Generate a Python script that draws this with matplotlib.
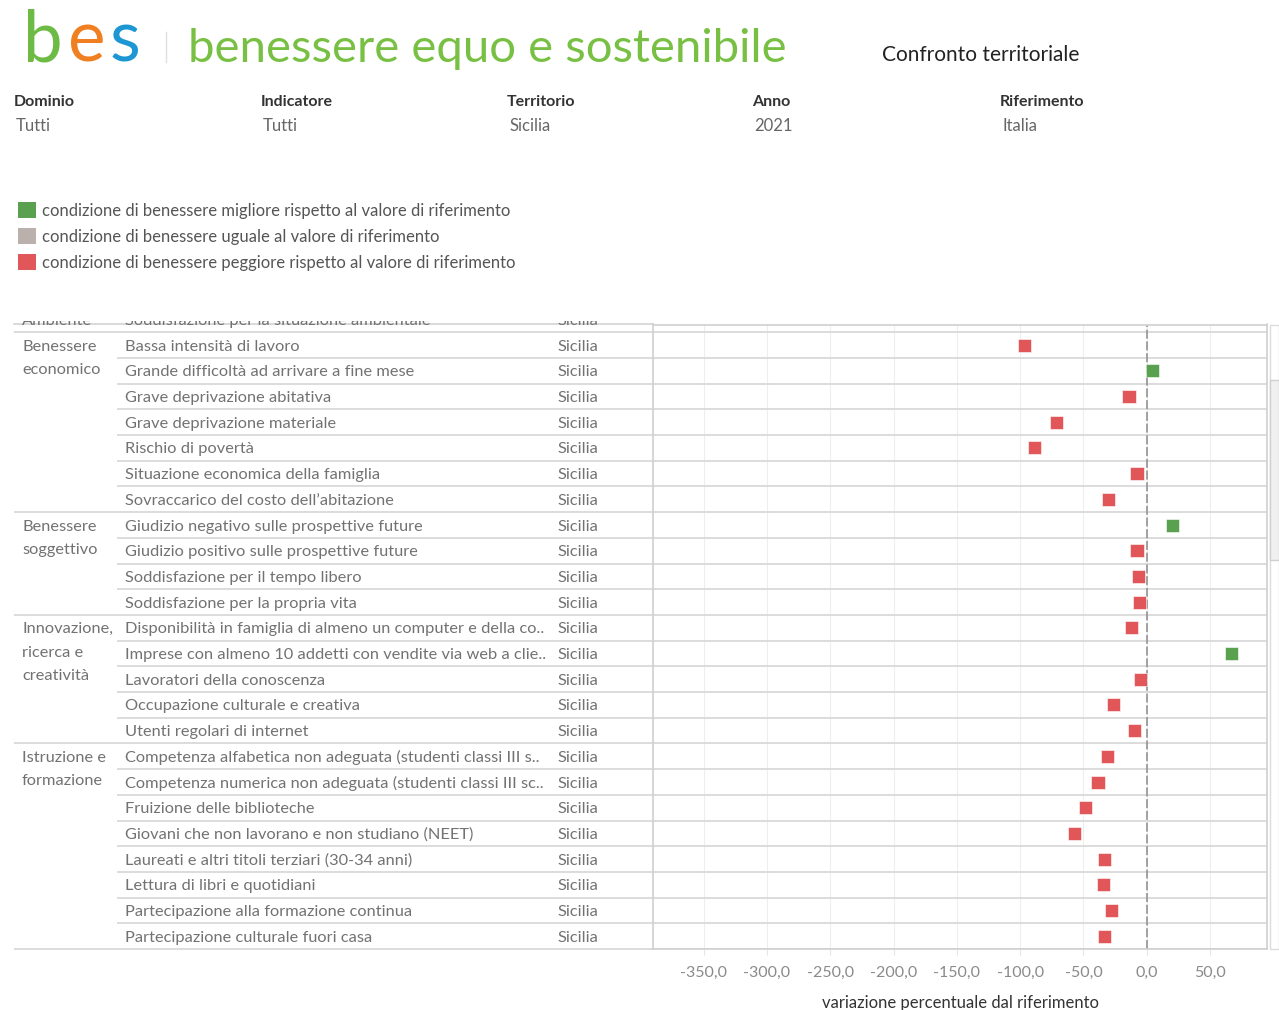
import numpy as np
import matplotlib
matplotlib.use('Agg')
import matplotlib.pyplot as plt
from matplotlib.patches import Patch, Rectangle
from matplotlib.ticker import FuncFormatter

# ---------------- data ----------------
domini = ["Ambiente",
          "Benessere economico", "Benessere economico", "Benessere economico", "Benessere economico",
          "Benessere economico", "Benessere economico", "Benessere economico",
          "Benessere soggettivo", "Benessere soggettivo", "Benessere soggettivo", "Benessere soggettivo",
          "Innovazione, ricerca e creatività", "Innovazione, ricerca e creatività",
          "Innovazione, ricerca e creatività", "Innovazione, ricerca e creatività",
          "Innovazione, ricerca e creatività",
          "Istruzione e formazione", "Istruzione e formazione", "Istruzione e formazione",
          "Istruzione e formazione", "Istruzione e formazione", "Istruzione e formazione",
          "Istruzione e formazione", "Istruzione e formazione"]

etichette_dominio = {
    "Ambiente": ["Ambiente"],
    "Benessere economico": ["Benessere", "economico"],
    "Benessere soggettivo": ["Benessere", "soggettivo"],
    "Innovazione, ricerca e creatività": ["Innovazione,", "ricerca e", "creatività"],
    "Istruzione e formazione": ["Istruzione e", "formazione"],
}

indicatori = [
    "Soddisfazione per la situazione ambientale",
    "Bassa intensità di lavoro",
    "Grande difficoltà ad arrivare a fine mese",
    "Grave deprivazione abitativa",
    "Grave deprivazione materiale",
    "Rischio di povertà",
    "Situazione economica della famiglia",
    "Sovraccarico del costo dell\u2019abitazione",
    "Giudizio negativo sulle prospettive future",
    "Giudizio positivo sulle prospettive future",
    "Soddisfazione per il tempo libero",
    "Soddisfazione per la propria vita",
    "Disponibilità in famiglia di almeno un computer e della co..",
    "Imprese con almeno 10 addetti con vendite via web a clie..",
    "Lavoratori della conoscenza",
    "Occupazione culturale e creativa",
    "Utenti regolari di internet",
    "Competenza alfabetica non adeguata (studenti classi III s..",
    "Competenza numerica non adeguata (studenti classi III sc..",
    "Fruizione delle biblioteche",
    "Giovani che non lavorano e non studiano (NEET)",
    "Laureati e altri titoli terziari (30-34 anni)",
    "Lettura di libri e quotidiani",
    "Partecipazione alla formazione continua",
    "Partecipazione culturale fuori casa",
]

territorio = "Sicilia"

valori = [np.nan,
          -96.6, 4.3, -14.0, -71.0, -89.0, -7.7, -30.0,
          20.7, -7.7, -6.8, -5.8,
          -12.0, 66.6, -5.0, -26.0, -10.0,
          -31.0, -38.5, -48.0, -57.0, -33.5, -34.4, -28.0, -33.5]

esito = ["peggiore",
         "peggiore", "migliore", "peggiore", "peggiore", "peggiore", "peggiore", "peggiore",
         "migliore", "peggiore", "peggiore", "peggiore",
         "peggiore", "migliore", "peggiore", "peggiore", "peggiore",
         "peggiore", "peggiore", "peggiore", "peggiore", "peggiore", "peggiore", "peggiore", "peggiore"]

tick_valori = [-350, -300, -250, -200, -150, -100, -50, 0, 50]

legenda_etichette = ["condizione di benessere migliore rispetto al valore di riferimento",
                     "condizione di benessere uguale al valore di riferimento",
                     "condizione di benessere peggiore rispetto al valore di riferimento"]

filtri_titoli = ["Dominio", "Indicatore", "Territorio", "Anno", "Riferimento"]
filtri_valori = ["Tutti", "Tutti", "Sicilia", "2021", "Italia"]

# ---------------- style ----------------
COL = {"migliore": "#59a14f", "uguale": "#bab0ac", "peggiore": "#e15759"}
FONT = ['Lato', 'DejaVu Sans']
plt.rcParams['font.family'] = FONT

W, H = 1279, 1010
fig = plt.figure(figsize=(W / 100, H / 100), dpi=100)
renderer = fig.canvas.get_renderer()

def fx(x):
    return x / W

def fy(y):
    return 1 - y / H

# overlay axes in pixel coordinates for header
ax_o = fig.add_axes([0, 0, 1, 1], zorder=-1)
ax_o.set_xlim(0, W)
ax_o.set_ylim(H, 0)
ax_o.axis('off')

# logo
x = 23
for ch, c, gap in [("b", "#6dbb45", 5), ("e", "#f07f22", 4), ("s", "#1d97d4", 0)]:
    t = ax_o.text(x, 62, ch, fontsize=51, color=c, va='baseline', ha='left')
    x = t.get_window_extent(renderer).x1 + gap
ax_o.plot([166, 166], [32, 62], color="#e0e0e0", lw=1)
ax_o.text(188, 62, "benessere equo e sostenibile", fontsize=34, color="#78c043",
          va='baseline', ha='left')
ax_o.text(882, 55, "Confronto territoriale", fontsize=15, color="#222222", va='center', ha='left')

hx = [14, 261, 507, 752, 1000]
for xx, t, v in zip(hx, filtri_titoli, filtri_valori):
    ax_o.text(xx, 102, t, fontsize=11.5, fontweight='bold', color="#333333", va='center', ha='left')
    ax_o.text(xx + 2, 126, v, fontsize=12, color="#666666", va='center', ha='left')

# scrollbar
ax_o.add_patch(Rectangle((1270, 325), 9, 624, fc='white', ec='#dcdcdc', lw=1))
ax_o.add_patch(Rectangle((1270, 380), 9, 180, fc='#f0f0f0', ec='#cfcfcf', lw=1))

# legend
handles = [Patch(facecolor=COL[k], edgecolor='none') for k in ["migliore", "uguale", "peggiore"]]
fig.legend(handles, legenda_etichette, loc='upper left', bbox_to_anchor=(fx(18), fy(202)),
           frameon=False, fontsize=12, handlelength=1.08, handleheight=1.08,
           handletextpad=0.38, labelspacing=0.58, borderpad=0, borderaxespad=0,
           labelcolor='#555555')

# ---------------- table + plot ----------------
CLIP_TOP, TOP, BOT = 321, 324.5, 949
LEFT, MID, RIGHT = 14, 653, 1267
ROW_H = 25.7
Y0 = 345.15
TXT_OFF = 1.5 / ROW_H

def yrow(ypix):
    return (ypix - Y0) / ROW_H

rows = np.arange(len(indicatori)) - 1

ax_t = fig.add_axes([fx(LEFT), fy(BOT), (MID - LEFT) / W, (BOT - CLIP_TOP) / H])
ax_t.set_xlim(LEFT, MID)
ax_t.set_ylim(yrow(BOT), yrow(CLIP_TOP))
ax_t.axis('off')

ax_p = fig.add_axes([fx(MID), fy(BOT), (RIGHT - MID) / W, (BOT - TOP) / H])
ax_p.set_ylim(yrow(BOT), yrow(TOP))
ax_p.set_xlim(-390, 95)

line_col = '#d9d9d9'
# row separator lines
for i in range(len(indicatori)):
    b = rows[i] + 0.5
    last = i == len(indicatori) - 1
    new_group = last or domini[i + 1] != domini[i]
    x0 = LEFT if new_group else 117
    ax_t.plot([x0, MID], [b, b], color=line_col, lw=1.3, solid_capstyle='butt',
              clip_on=False, zorder=2)
    ax_p.axhline(b, color=line_col, lw=1.3, zorder=1)
ax_t.plot([LEFT, MID], [yrow(TOP), yrow(TOP)], color='#cfcfcf', lw=1.1,
          clip_on=False, zorder=3)

# table text
txt_col = '#727272'
FS = 11.8
for r, ind in zip(rows, indicatori):
    ax_t.text(125, r + TXT_OFF, ind, fontsize=FS, color=txt_col, va='center', ha='left', clip_on=True)
    ax_t.text(557, r + TXT_OFF, territorio, fontsize=FS, color=txt_col, va='center', ha='left', clip_on=True)

seen = set()
for r, d in zip(rows, domini):
    if d in seen:
        continue
    seen.add(d)
    for j, line in enumerate(etichette_dominio[d]):
        ax_t.text(22, r + TXT_OFF + j * 23.3 / ROW_H, line, fontsize=FS, color=txt_col,
                  va='center', ha='left', clip_on=True)

# plot styling
for s in ax_p.spines.values():
    s.set_color('#d0d0d0')
    s.set_linewidth(1.2)
ax_p.set_yticks([])
ax_p.set_xticks(tick_valori)
ax_p.xaxis.set_major_formatter(FuncFormatter(lambda v, p: f"{v:.1f}".replace('.', ',')))
ax_p.tick_params(axis='x', length=4, color='#e6e6e6', labelcolor='#8a8a8a',
                 labelsize=11.5, pad=8)
ax_p.grid(axis='x', color='#eeeeee', lw=0.8, zorder=0)
ax_p.set_axisbelow(True)
ax_p.axvline(0, color='#9a9a9a', lw=1.3, ls=(0, (5, 1.5)), zorder=2)

colori = [COL[e] for e in esito]
ax_p.scatter(valori, rows, marker='s', s=9.4 ** 2, c=colori, edgecolors='white',
             linewidths=0.4, zorder=3)

ax_p.set_xlabel("variazione percentuale dal riferimento", fontsize=12, color='#333333',
                labelpad=11)

fig.savefig('out.png', dpi=100)
